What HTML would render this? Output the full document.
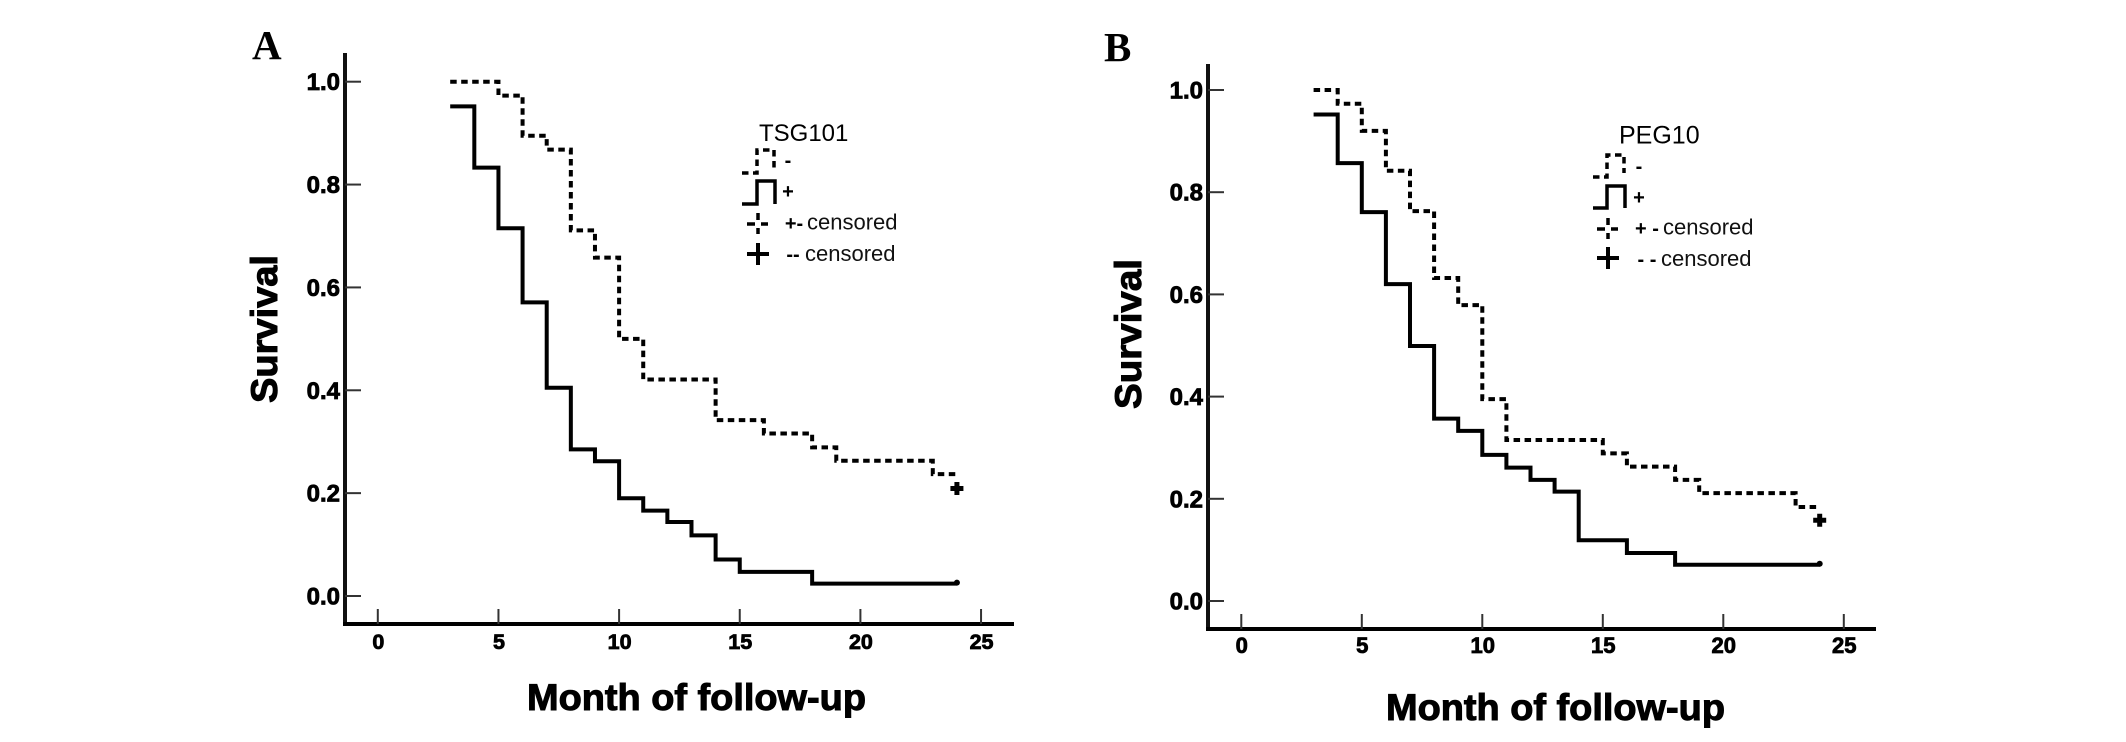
<!DOCTYPE html>
<html lang="en">
<head>
<meta charset="utf-8">
<title>Survival curves for TSG101 and PEG10</title>
<style>
html,body{margin:0;padding:0;background:#fff;}
svg{display:block;}
text{font-family:"Liberation Sans",sans-serif;fill:#000;}
.tick-label{font-weight:bold;stroke:#000;stroke-width:.8px;}
.axis-title{font-weight:bold;stroke:#000;stroke-width:1px;}
.panel-letter{font-family:"Liberation Serif",serif;font-weight:bold;}
.legend-text{font-size:22px;fill:#111;}
.legend-sign{font-size:20px;font-weight:bold;text-anchor:middle;}
</style>
</head>
<body>
<svg id="figure" xmlns="http://www.w3.org/2000/svg" width="2126" height="742" viewBox="0 0 2126 742">
  <rect width="2126" height="742" fill="#fff"/>

  <g id="panel-a">
    <text class="panel-letter" x="252" y="59" font-size="41">A</text>
    <text class="axis-title" transform="translate(277 329) rotate(-90)" text-anchor="middle" font-size="37" textLength="148" lengthAdjust="spacingAndGlyphs">Survival</text>
    <text class="axis-title" x="527" y="710" font-size="37" textLength="339" lengthAdjust="spacingAndGlyphs">Month of follow-up</text>

    <g>
      <text x="759" y="141" font-size="24">TSG101</text>
      <path d="M742 173H757V150H774V170" fill="none" stroke="#000" stroke-width="3.5" stroke-dasharray="6.5 4.5"/>
      <text class="legend-sign" x="788" y="167">-</text>
      <path d="M742 204H757V181H775V204" fill="none" stroke="#000" stroke-width="3.5"/>
      <text class="legend-sign" x="788" y="198">+</text>
      <path d="M758 213V220M758 228V234M747 224H755M761 224H768" fill="none" stroke="#000" stroke-width="3.5"/>
      <text class="legend-sign" x="794" y="230">+-</text>
      <text class="legend-text" x="807" y="229.5">censored</text>
      <path d="M758 243V265M747 254H769" fill="none" stroke="#000" stroke-width="4"/>
      <text class="legend-sign" x="793" y="261">--</text>
      <text class="legend-text" x="805" y="261">censored</text>
    </g>
  </g>

  <g id="panel-b">
    <text class="panel-letter" x="1104" y="61" font-size="41">B</text>
    <text class="axis-title" transform="translate(1141 334) rotate(-90)" text-anchor="middle" font-size="37" textLength="150" lengthAdjust="spacingAndGlyphs">Survival</text>
    <text class="axis-title" x="1386" y="720" font-size="37" textLength="339" lengthAdjust="spacingAndGlyphs">Month of follow-up</text>

    <g>
      <text x="1619" y="143.5" font-size="25">PEG10</text>
      <path d="M1593 177H1607V155H1624V173" fill="none" stroke="#000" stroke-width="3.5" stroke-dasharray="6.5 4.5"/>
      <text class="legend-sign" x="1639" y="173">-</text>
      <path d="M1593 208H1607V186H1625V208" fill="none" stroke="#000" stroke-width="3.5"/>
      <text class="legend-sign" x="1639" y="204">+</text>
      <path d="M1608 218V225M1608 233V239M1597 229H1605M1611 229H1618" fill="none" stroke="#000" stroke-width="3.5"/>
      <text class="legend-sign" x="1647" y="235">+ -</text>
      <text class="legend-text" x="1663" y="234.5">censored</text>
      <path d="M1608 247V269M1597 258H1619" fill="none" stroke="#000" stroke-width="4"/>
      <text class="legend-sign" x="1647" y="266">- -</text>
      <text class="legend-text" x="1661" y="266">censored</text>
    </g>
  </g>
</svg>

<script>
const xTickValues = [0, 5, 10, 15, 20, 25];
const yTickValues = [0.0, 0.2, 0.4, 0.6, 0.8, 1.0];
const yTickLabels = ['0.0', '0.2', '0.4', '0.6', '0.8', '1.0'];

const aSolidMonths = [3, 4, 5, 6, 7, 8, 9, 10, 11, 12, 13, 14, 15, 18, 24];
const aSolidSurvival = [0.952, 0.833, 0.715, 0.571, 0.405, 0.285, 0.262, 0.190, 0.166, 0.144, 0.118, 0.071, 0.047, 0.024, 0.024];
const aDashedMonths = [3, 5, 6, 7, 8, 9, 10, 11, 14, 16, 18, 19, 23, 24];
const aDashedSurvival = [1.0, 0.973, 0.895, 0.868, 0.711, 0.658, 0.500, 0.421, 0.342, 0.316, 0.289, 0.263, 0.237, 0.237];
const aDashedCensoredMonth = 24;
const aDashedCensoredSurvival = 0.209;

const bSolidMonths = [3, 4, 5, 6, 7, 8, 9, 10, 11, 12, 13, 14, 16, 18, 24];
const bSolidSurvival = [0.952, 0.857, 0.761, 0.620, 0.499, 0.357, 0.333, 0.286, 0.261, 0.237, 0.214, 0.119, 0.094, 0.071, 0.071];
const bDashedMonths = [3, 4, 5, 6, 7, 8, 9, 10, 11, 15, 16, 18, 19, 23, 24];
const bDashedSurvival = [1.0, 0.973, 0.920, 0.842, 0.763, 0.632, 0.579, 0.395, 0.315, 0.289, 0.263, 0.237, 0.211, 0.184, 0.184];
const bDashedCensoredMonth = 24;
const bDashedCensoredSurvival = 0.158;

const SVG_NS = 'http://www.w3.org/2000/svg';

function make(tag, parent, attrs) {
  const el = document.createElementNS(SVG_NS, tag);
  for (const key in attrs) el.setAttribute(key, attrs[key]);
  parent.appendChild(el);
  return el;
}

function stepPath(months, survival, xScale, yScale) {
  let d = 'M' + xScale(months[0]) + ' ' + yScale(survival[0]);
  for (let i = 1; i < months.length; i++) {
    d += 'H' + xScale(months[i]) + 'V' + yScale(survival[i]);
  }
  return d;
}

function drawAxes(parent, xScale, yScale, frame) {
  const yAxis = make('line', parent, {x1: frame.left, x2: frame.left, y1: frame.top, y2: frame.bottom + 2, stroke: '#111', 'stroke-width': 4});
  
  

  const xAxis = make('line', parent, {x1: frame.left - 2, x2: frame.right, y1: frame.bottom, y2: frame.bottom, stroke: '#000', 'stroke-width': 4});
  
  

  xTickValues.forEach(function (value) {
    const tick = make('line', parent, {x1: xScale(value), x2: xScale(value), y1: frame.bottom - 15, y2: frame.bottom, stroke: '#333', 'stroke-width': 2});
    
    

    const label = make('text', parent, {x: xScale(value) + 0.5, y: frame.xLabelBaseline, 'text-anchor': 'middle', 'font-size': frame.xLabelSize, class: 'tick-label'});
    label.textContent = String(value);
    
    
  });

  yTickValues.forEach(function (value, i) {
    const tick = make('line', parent, {x1: frame.left, x2: frame.left + 16, y1: yScale(value), y2: yScale(value), stroke: '#333', 'stroke-width': 2});
    
    

    const label = make('text', parent, {x: frame.left - 5, y: yScale(value) + 8.5, 'text-anchor': 'end', 'font-size': 24, class: 'tick-label'});
    label.textContent = yTickLabels[i];
    
    
  });
}

function drawCurves(parent, xScale, yScale, solidMonths, solidSurvival, dashedMonths, dashedSurvival, censoredMonth, censoredSurvival) {
  const dashed = make('path', parent, {d: stepPath(dashedMonths, dashedSurvival, xScale, yScale), fill: 'none', stroke: '#000', 'stroke-width': 4, 'stroke-dasharray': '6.5 4.5'});
  
  

  const solid = make('path', parent, {d: stepPath(solidMonths, solidSurvival, xScale, yScale), fill: 'none', stroke: '#000', 'stroke-width': 4});
  
  

  const cx = xScale(censoredMonth);
  const cy = yScale(censoredSurvival);
  const censored = make('path', parent, {d: 'M' + (cx - 6.5) + ' ' + cy + 'H' + (cx + 6.5) + 'M' + cx + ' ' + (cy - 6.5) + 'V' + (cy + 6.5), fill: 'none', stroke: '#000', 'stroke-width': 5});
  
  

  const lastIndex = solidMonths.length - 1;
  const endDot = make('circle', parent, {cx: xScale(solidMonths[lastIndex]), cy: yScale(solidSurvival[lastIndex]) - 1, r: 3, fill: '#000'});
  
  
}

function linearScale(zeroPixel, pixelsPerUnit) {
  return function (value) { return zeroPixel + pixelsPerUnit * value; };
}

const panelA = document.getElementById('panel-a');
const aX = linearScale(377.8, 24.13);
const aY = linearScale(596, -514.3);
drawAxes(panelA, aX, aY, {left: 345, right: 1014, top: 53, bottom: 624, xLabelBaseline: 649, xLabelSize: 21.5});
drawCurves(panelA, aX, aY, aSolidMonths, aSolidSurvival, aDashedMonths, aDashedSurvival, aDashedCensoredMonth, aDashedCensoredSurvival);

const panelB = document.getElementById('panel-b');
const bX = linearScale(1241.3, 24.1);
const bY = linearScale(601, -511);
drawAxes(panelB, bX, bY, {left: 1208, right: 1876, top: 64, bottom: 629, xLabelBaseline: 653, xLabelSize: 22});
drawCurves(panelB, bX, bY, bSolidMonths, bSolidSurvival, bDashedMonths, bDashedSurvival, bDashedCensoredMonth, bDashedCensoredSurvival);
</script>
</body>
</html>
